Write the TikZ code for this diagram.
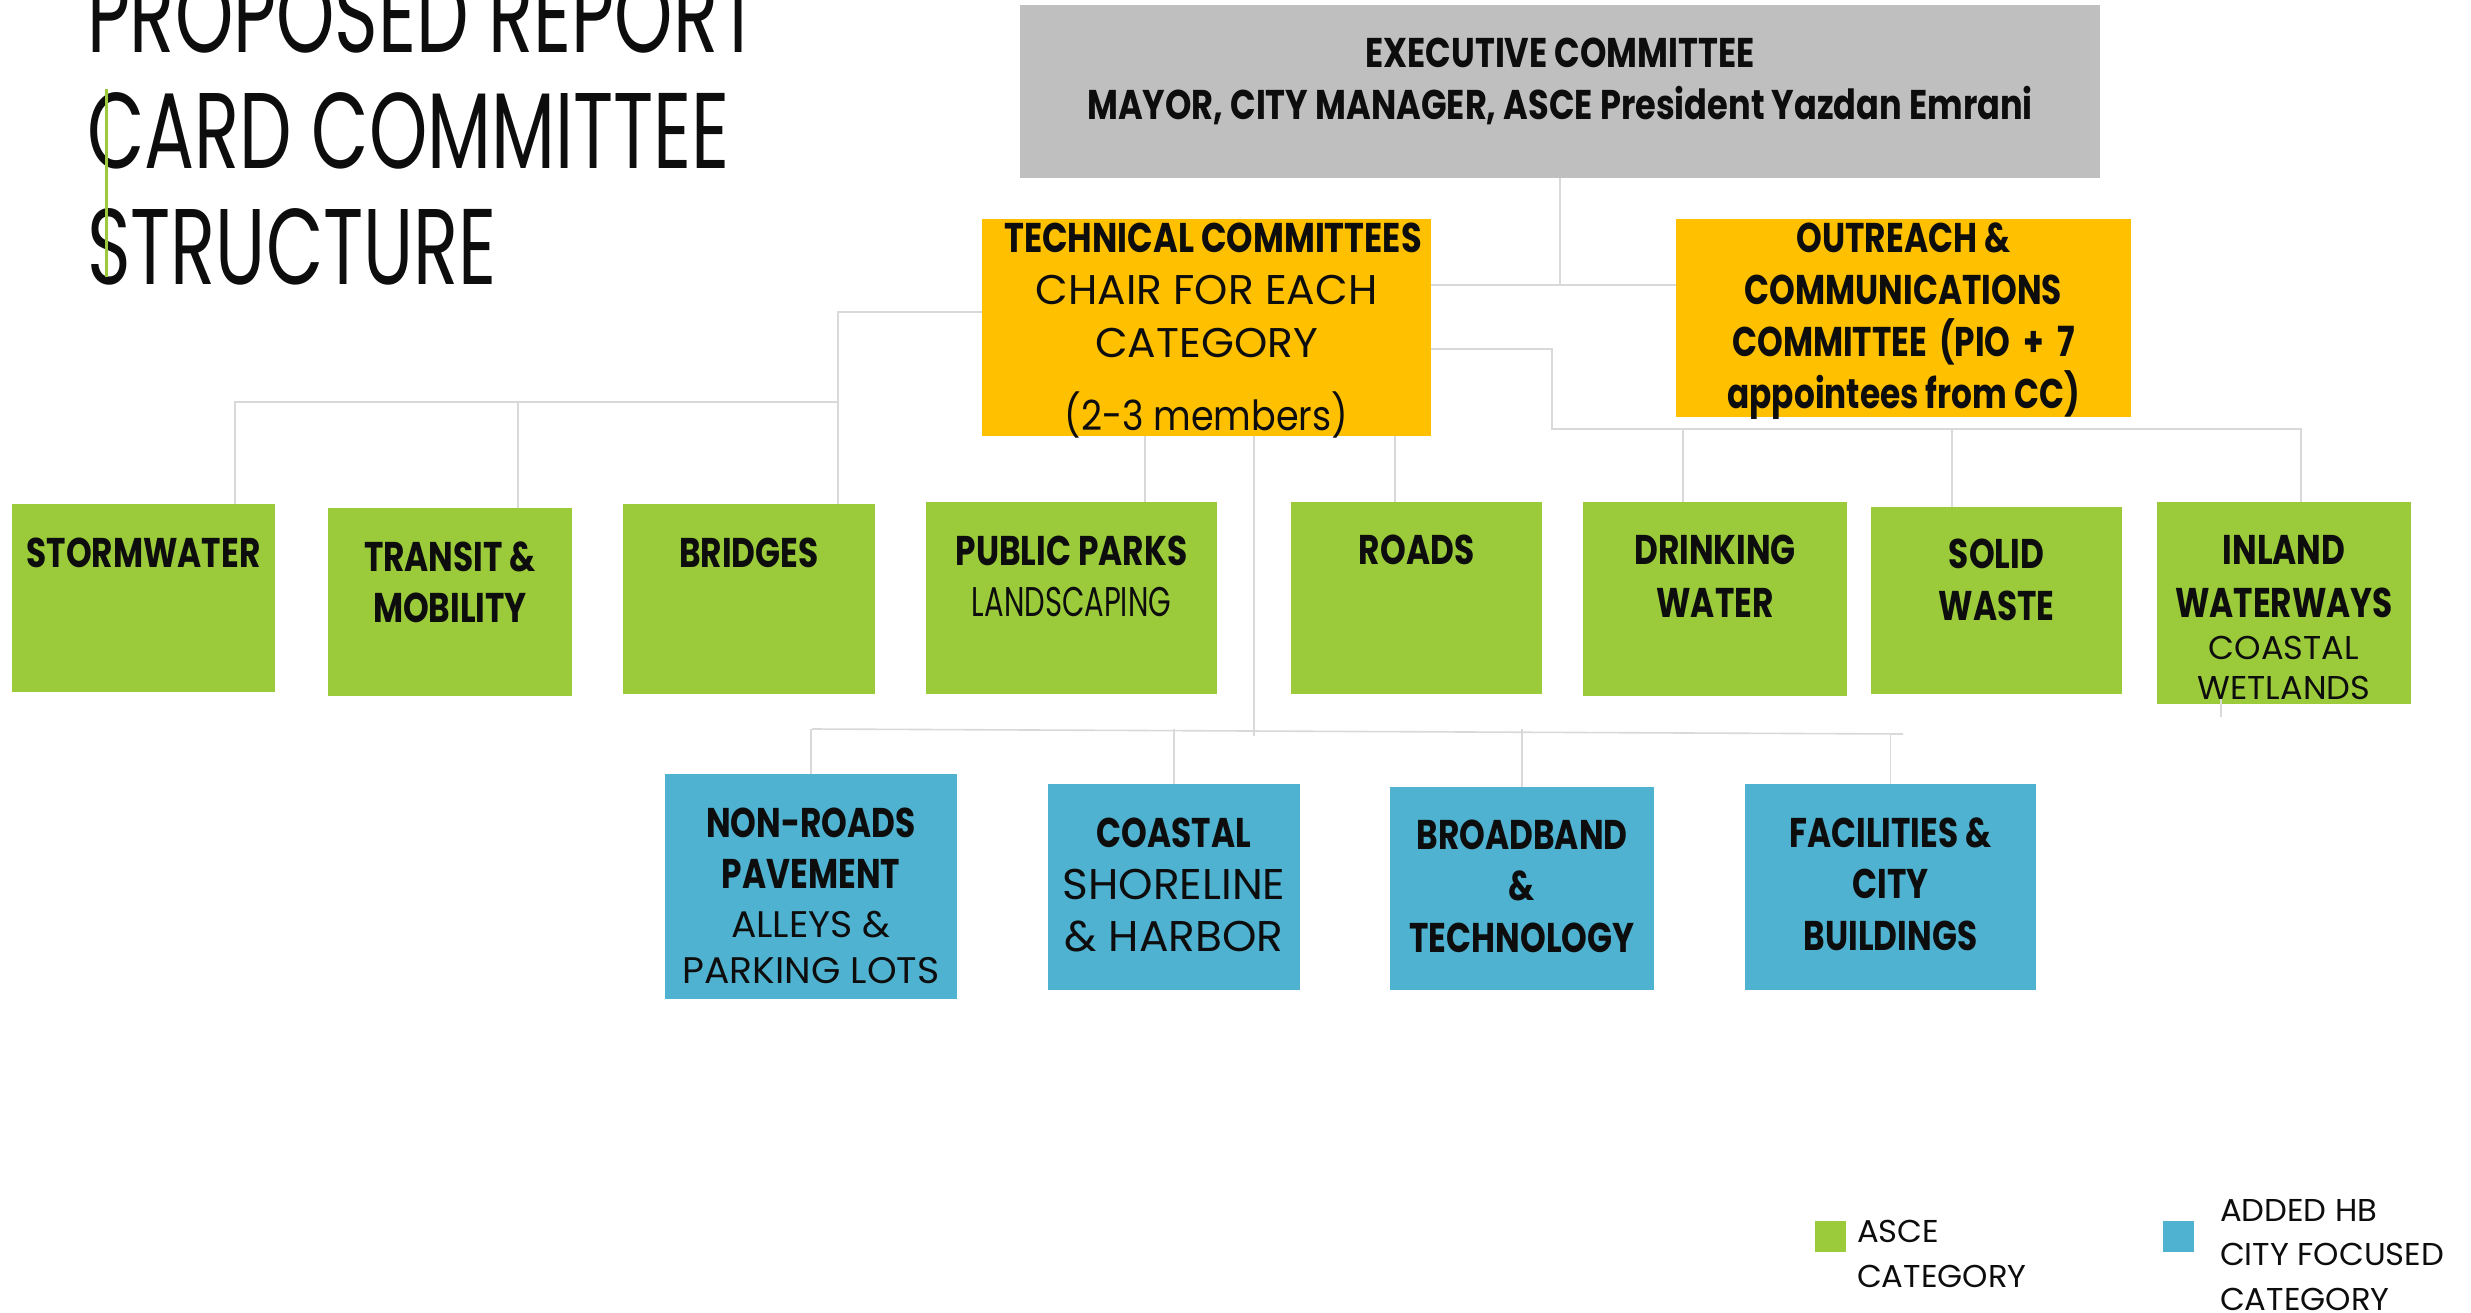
\documentclass[tikz,border=0pt]{standalone}
\usepackage{fontspec}
\newfontfamily\fbold{Poppins}[FakeStretch=0.79]
\newfontfamily\fboldw{Poppins}[FakeStretch=0.81]
\newfontfamily\freg{Poppins}[FakeStretch=1.02]
\newfontfamily\fmem{Poppins}[FakeStretch=0.88]
\newfontfamily\fnar{Poppins}[FakeStretch=0.70]
\newfontfamily\ftitle{Poppins}[FakeStretch=0.69]
\newcommand\hb{\fbold\bfseries}
\newcommand\hbw{\fboldw\bfseries}
\definecolor{asce}{RGB}{155,203,59}
\definecolor{city}{RGB}{79,178,208}
\definecolor{comm}{RGB}{255,192,0}
\definecolor{exec}{RGB}{191,191,191}
\definecolor{linegray}{RGB}{217,217,217}
\definecolor{ink}{RGB}{13,13,13}
\tikzset{
  box/.style={rectangle, inner sep=0pt, outer sep=0pt, draw=none},
  gbox/.style={box, fill=asce},
  bbox/.style={box, fill=city},
  ybox/.style={box, fill=comm},
  conn/.style={draw=linegray, line width=1.6pt},
  lbl/.style={inner sep=0pt, outer sep=0pt, align=center, anchor=base, text=ink},
  lblB/.style={lbl, font=\fontsize{41.5}{52}\selectfont\hb},
}
\begin{document}
\begin{tikzpicture}[x=1pt,y=-1pt]
\useasboundingbox (0,0) rectangle (2471,1313);
\clip (0,0) rectangle (2471,1313);

% ---------- boxes ----------
\node[box, fill=exec, minimum width=1080, minimum height=173] (exec) at (1560,91.5) {};
\node[ybox, minimum width=449, minimum height=217] (tech) at (1206.5,327.5) {};
\node[ybox, minimum width=455, minimum height=198] (out) at (1903.5,318) {};

\node[gbox, minimum width=263, minimum height=188] (storm) at (143.5,598) {};
\node[gbox, minimum width=244, minimum height=188] (transit) at (450,602) {};
\node[gbox, minimum width=252, minimum height=190] (bridges) at (749,599) {};
\node[gbox, minimum width=291, minimum height=192] (parks) at (1071.5,598) {};
\node[gbox, minimum width=251, minimum height=192] (roads) at (1416.5,598) {};
\node[gbox, minimum width=264, minimum height=194] (drink) at (1715,599) {};
\node[gbox, minimum width=251, minimum height=187] (solid) at (1996.5,600.5) {};
\node[gbox, minimum width=254, minimum height=202] (inland) at (2284,603) {};

\node[bbox, minimum width=292, minimum height=225] (nonroads) at (811,886.5) {};
\node[bbox, minimum width=252, minimum height=206] (coastal) at (1174,887) {};
\node[bbox, minimum width=264, minimum height=203] (broad) at (1522,888.5) {};
\node[bbox, minimum width=291, minimum height=206] (facil) at (1890.5,887) {};

% ---------- connectors ----------
\coordinate (j1) at (1560,285);
\draw[conn] (exec.south) -- (j1);
\draw[conn] (tech.east |- j1) -- (out.west |- j1);

\coordinate (rt) at (1552,349);
\coordinate (rbusL) at (1552,429);
\coordinate (rbusR) at (2301,429);
\coordinate (dDrink) at (1683,429);
\coordinate (dSolid) at (1952,429);
\draw[conn] (tech.east |- rt) -- (rt) -- (rbusL) -- (rbusR) -- (inland.north -| rbusR);
\draw[conn] (dDrink) -- (drink.north -| dDrink);
\draw[conn] (dSolid) -- (solid.north -| dSolid);

\coordinate (lt) at (838,312);
\coordinate (lbusR) at (838,402);
\coordinate (lbusL) at (235,402);
\coordinate (dTransit) at (518,402);
\draw[conn] (tech.west |- lt) -- (lt) -- (lbusR) -- (bridges.north -| lbusR);
\draw[conn] (lbusR) -- (lbusL) -- (storm.north -| lbusL);
\draw[conn] (dTransit) -- (transit.north -| dTransit);

\coordinate (dParks) at (1145,436);
\coordinate (dRoads) at (1395,436);
\draw[conn] (tech.south -| dParks) -- (parks.north -| dParks);
\draw[conn] (tech.south -| dRoads) -- (roads.north -| dRoads);

\coordinate (dLow) at (1254,736);
\coordinate (lowL) at (812,729);
\coordinate (lowR) at (1903,734);
\draw[conn] (tech.south -| dLow) -- (dLow);
\draw[conn] (lowL) -- (lowR);
\draw[conn] (nonroads.north |- lowL) -- (nonroads.north);
\draw[conn] (coastal.north |- lowL) -- (coastal.north);
\draw[conn] (broad.north |- lowL) -- (broad.north);
\draw[conn] (facil.north |- lowR) -- (facil.north);

\coordinate (stubA) at (2221,697);
\coordinate (stubB) at (2221,717);
\draw[conn] (stubA) -- (stubB);

% ---------- labels (anchor = baseline of the last line) ----------
\node[lblB, font=\fontsize{41.5}{52}\selectfont\hbw] (execT) at (1560,120) {EXECUTIVE COMMITTEE\\MAYOR, CITY MANAGER, ASCE President Yazdan Emrani};
\node[lbl, font=\fontsize{41.5}{52.5}\selectfont] (techT) at (1206.5,430)
  {{\hbw TECHNICAL COMMITTEES\hspace*{-13pt}}\\{\freg CHAIR FOR EACH}\\{\freg CATEGORY}\\[20.5pt]{\fmem (2-3 members)}};
\node[lblB, font=\fontsize{41.5}{51.7}\selectfont\hb] (outT) at (1903.5,408)
  {OUTREACH \&\\COMMUNICATIONS\\COMMITTEE\hspace{5pt} (PIO\hspace{6pt} +\hspace{6pt} 7\\appointees from CC)};

\node[lblB] (stormT) at (143.5,567) {STORMWATER};
\node[lblB, font=\fontsize{41.5}{51}\selectfont\hb] (transitT) at (450,622) {TRANSIT \&\\MOBILITY};
\node[lblB] (bridgesT) at (749,567) {BRIDGES};
\node[lbl, font=\fontsize{41.5}{51}\selectfont] (parksT) at (1071.5,616) {{\hb PUBLIC PARKS}\\{\fnar LANDSCAPING}};
\node[lblB] (roadsT) at (1416.5,564) {ROADS};
\node[lblB, font=\fontsize{41.5}{53}\selectfont\hb] (drinkT) at (1715,617) {DRINKING\\WATER};
\node[lblB] (solidT) at (1996.5,620) {SOLID\\WASTE};
\node[lblB, font=\fontsize{41.5}{53}\selectfont\hb] (inlandT) at (2284,617) {INLAND\\WATERWAYS};
\node[lbl, font=\fontsize{33}{40}\selectfont\freg] (inlandS) at (2284,699) {COASTAL\\WETLANDS};

\node[lblB, font=\fontsize{41.5}{51}\selectfont\hb] (nonroadsT) at (811,888) {NON-ROADS\\PAVEMENT};
\node[lbl, font=\fontsize{37}{46}\selectfont\freg] (nonroadsS) at (811,983) {ALLEYS \&\\PARKING LOTS};
\node[lbl, font=\fontsize{43}{52}\selectfont] (coastalT) at (1174,951) {{\fontsize{41.5}{52}\selectfont\hb COASTAL}\\{\freg SHORELINE}\\{\freg \& HARBOR}};
\node[lblB, font=\fontsize{41.5}{51.5}\selectfont\hb] (broadT) at (1522,952) {BROADBAND\\\&\\TECHNOLOGY};
\node[lblB, font=\fontsize{41.5}{51.5}\selectfont\hb] (facilT) at (1890.5,950) {FACILITIES \&\\CITY\\BUILDINGS};

% ---------- title ----------
\node[lbl, anchor=base west, align=left, font=\fontsize{107.6}{116}\selectfont\ftitle] (title) at (87,285)
  {PROPOSED REPORT\\CARD COMMITTEE\\STRUCTURE};
\fill[asce] (105,89) rectangle (108,277);

% ---------- legend ----------
\node[box, fill=asce, minimum width=31, minimum height=31] (legG) at (1830.5,1236.5) {};
\node[lbl, anchor=base west, align=left, font=\fontsize{31.6}{45}\selectfont\freg] (legGT) at (1857,1287) {ASCE\\CATEGORY};
\node[box, fill=city, minimum width=31, minimum height=31] (legB) at (2178.5,1236.5) {};
\node[lbl, anchor=base west, align=left, font=\fontsize{31.6}{44.5}\selectfont\freg] (legBT) at (2220,1310) {ADDED HB\\CITY FOCUSED\\CATEGORY};
\end{tikzpicture}
\end{document}
